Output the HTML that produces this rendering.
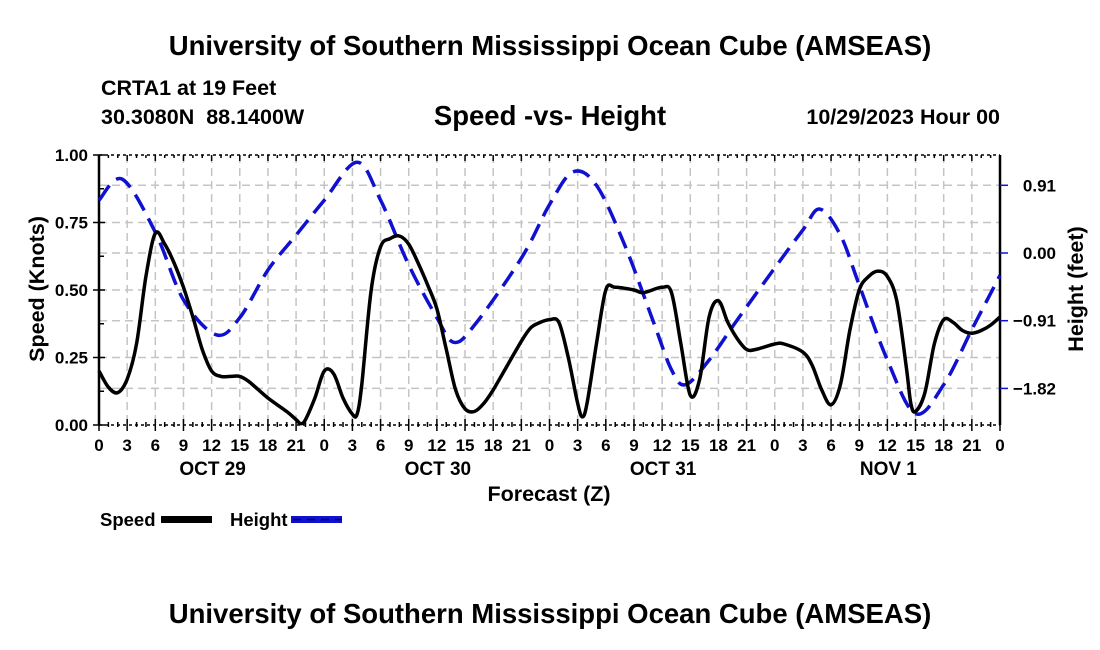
<!DOCTYPE html>
<html><head><meta charset="utf-8"><style>
body{margin:0;background:#fff;}
svg{display:block;font-family:"Liberation Sans",sans-serif;font-weight:bold;}
</style></head><body>
<svg id="chart" width="1100" height="650" viewBox="0 0 1100 650">
<rect width="1100" height="650" fill="#fff"/>
<text x="550" y="55" font-size="27.5" text-anchor="middle">University of Southern Mississippi Ocean Cube (AMSEAS)</text>
<text x="101" y="95" font-size="21.5">CRTA1 at 19 Feet</text>
<text x="101" y="124" font-size="21.5" xml:space="preserve">30.3080N  88.1400W</text>
<text x="550" y="125" font-size="27.5" text-anchor="middle">Speed -vs- Height</text>
<text x="1000" y="124" font-size="21.5" text-anchor="end">10/29/2023 Hour 00</text>
<g id="grid"></g>
<g id="axes"></g>
<g id="series"></g>
<text x="549" y="501" font-size="21.5" text-anchor="middle">Forecast (Z)</text>
<text transform="translate(44,289) rotate(-90)" font-size="21.5" text-anchor="middle">Speed (Knots)</text>
<text transform="translate(1083,289) rotate(-90)" font-size="21.5" text-anchor="middle">Height (feet)</text>
<g>
<text x="100" y="526" font-size="18.5">Speed</text>
<rect x="161" y="516" width="51" height="7" fill="#000"/>
</g>
<g>
<text x="230" y="526" font-size="18.5">Height</text>
<rect x="291" y="516" width="51" height="7" fill="#1010d0"/>
<line x1="293" y1="519.5" x2="342" y2="519.5" stroke="#000060" stroke-width="1.5" stroke-dasharray="8,6"/>
</g>
<text x="550" y="623" font-size="27.5" text-anchor="middle">University of Southern Mississippi Ocean Cube (AMSEAS)</text>
</svg>
<script>
const speedHours=[0,1,2,3,4,5,6,7,8,9,10,11,12,13,14,15,16,18,20,21,21.5,22,23,24,25,26,27,27.5,28,29,30,31,32,33,34,35,36,37,38,39,40,41,42,43,45,46,47,48,49,50,51,51.5,52,53,54,55,57,58,60,61,62,63,64,65,66,67,68,69,70,72,73,75,76,77,78,79,80,81,82,83,84,85,86,86.5,87,88,89,90,91,92,93,94,95,96];
const speedValues=[0.20,0.14,0.12,0.17,0.30,0.55,0.71,0.67,0.60,0.51,0.40,0.28,0.20,0.18,0.18,0.18,0.16,0.10,0.05,0.02,0.005,0.02,0.10,0.20,0.19,0.10,0.04,0.04,0.15,0.50,0.66,0.69,0.70,0.67,0.60,0.52,0.43,0.28,0.13,0.06,0.05,0.08,0.13,0.19,0.31,0.36,0.38,0.39,0.38,0.25,0.08,0.03,0.08,0.30,0.50,0.51,0.50,0.49,0.51,0.49,0.30,0.11,0.17,0.40,0.46,0.38,0.32,0.28,0.28,0.30,0.30,0.27,0.22,0.13,0.075,0.15,0.35,0.50,0.55,0.57,0.55,0.46,0.22,0.08,0.05,0.12,0.30,0.39,0.38,0.35,0.34,0.35,0.37,0.40];
const heightHours=[0,2.5,6,9,12.5,15,18,21,24,27.5,30,33,36,37.8,40,45,48,50.5,53,56,59,61,62.5,65,68,72,75,76.8,79,81,84,87,90,93,96];
const heightValues=[0.71,0.99,0.28,-0.63,-1.10,-0.87,-0.23,0.24,0.71,1.22,0.71,-0.16,-0.87,-1.20,-0.97,-0.07,0.65,1.09,0.91,0.11,-0.90,-1.57,-1.77,-1.44,-0.90,-0.20,0.31,0.59,0.24,-0.43,-1.44,-2.16,-1.77,-1.03,-0.30];
const xTickLabels=["0","3","6","9","12","15","18","21"];
const dayLabels=["OCT 29","OCT 30","OCT 31","NOV 1"];
const speedTicks=[0,0.25,0.5,0.75,1.0];
const heightTicks=[0.91,0,-0.91,-1.82];

const X0=99,X1=1000,Y0=425,Y1=155;
const xS=h=>X0+h*(X1-X0)/96;
const yS=s=>Y0-s*(Y0-Y1);
const yH=f=>253-f*74.4;
const NS="http://www.w3.org/2000/svg";
function mk(tag,attrs,parent){const e=document.createElementNS(NS,tag);for(const k in attrs)e.setAttribute(k,attrs[k]);parent.appendChild(e);return e;}
const grid=document.getElementById('grid'),axes=document.getElementById('axes'),series=document.getElementById('series');
for(let h=3;h<96;h+=3){const l=mk('line',{x1:xS(h),x2:xS(h),y1:Y1,y2:Y0,stroke:'#c4c4c4','stroke-width':1.5,'stroke-dasharray':'8,5'},grid);

}
speedTicks.slice(1,4).forEach(s=>{const l=mk('line',{x1:X0,x2:X1,y1:yS(s),y2:yS(s),stroke:'#c4c4c4','stroke-width':1.5,'stroke-dasharray':'8,5'},grid);

});
heightTicks.forEach(f=>{const l=mk('line',{x1:X0,x2:X1,y1:yH(f),y2:yH(f),stroke:'#c4c4c4','stroke-width':1.5,'stroke-dasharray':'8,5'},grid);

});
mk('line',{x1:X0,x2:X0,y1:Y1,y2:Y0,stroke:'#000','stroke-width':2.5},axes);
mk('line',{x1:X1,x2:X1,y1:Y1,y2:Y0,stroke:'#000','stroke-width':2.5},axes);
mk('line',{x1:X0,x2:X1,y1:Y1,y2:Y1,stroke:'#000','stroke-width':1.5,'stroke-dasharray':'3,3'},axes);
mk('line',{x1:X0,x2:X1,y1:Y0,y2:Y0,stroke:'#000','stroke-width':1.5,'stroke-dasharray':'3,3'},axes);
for(let h=0;h<=96;h++){const big=h%3===0;
mk('line',{x1:xS(h),x2:xS(h),y1:Y0-(big?6:3),y2:Y0+(big?6:2),stroke:'#000','stroke-width':1.5},axes);
mk('line',{x1:xS(h),x2:xS(h),y1:Y1,y2:Y1+(big?6:3),stroke:'#000','stroke-width':1.5},axes);
if(big){const t=mk('text',{x:xS(h),y:451,'font-size':17,'text-anchor':'middle'},axes);t.textContent=xTickLabels[(h/3)%8];

}}
dayLabels.forEach((d,i)=>{const t=mk('text',{x:xS(12+24*i)+1,y:475,'font-size':19,'text-anchor':'middle'},axes);t.textContent=d;

});
speedTicks.forEach(s=>{mk('line',{x1:X0-6,x2:X0+6,y1:yS(s),y2:yS(s),stroke:'#000','stroke-width':1.5},axes);
const t=mk('text',{x:88,y:yS(s)+6,'font-size':17,'text-anchor':'end'},axes);t.textContent=s.toFixed(2);

});
for(let s=0.125;s<1;s+=0.25)mk('line',{x1:X0,x2:X0+5,y1:yS(s),y2:yS(s),stroke:'#000','stroke-width':1.5},axes);
heightTicks.forEach(f=>{mk('line',{x1:X1,x2:X1+8,y1:yH(f),y2:yH(f),stroke:'#1010d0','stroke-width':1.5},axes);
const t=mk('text',{x:1056,y:yH(f)+6,'font-size':17,'text-anchor':'end'},axes);t.textContent=(f<0?'\u2212':'')+Math.abs(f).toFixed(2);

});
function smooth(pts){let d=`M${pts[0][0]},${pts[0][1]}`;
for(let i=0;i<pts.length-1;i++){const p0=pts[i-1]||pts[i],p1=pts[i],p2=pts[i+1],p3=pts[i+2]||p2;
const c1=[p1[0]+(p2[0]-p0[0])/6,p1[1]+(p2[1]-p0[1])/6],c2=[p2[0]-(p3[0]-p1[0])/6,p2[1]-(p3[1]-p1[1])/6];
d+=` C${c1[0].toFixed(1)},${c1[1].toFixed(1)} ${c2[0].toFixed(1)},${c2[1].toFixed(1)} ${p2[0].toFixed(1)},${p2[1].toFixed(1)}`;}return d;}
const hp=mk('path',{d:smooth(heightHours.map((h,i)=>[xS(h),yH(heightValues[i])])),fill:'none',stroke:'#1010d0','stroke-width':3.5,'stroke-dasharray':'18,9'},series);


const sp=mk('path',{d:smooth(speedHours.map((h,i)=>[xS(h),yS(speedValues[i])])),fill:'none',stroke:'#000','stroke-width':3.5,'stroke-linejoin':'round'},series);


</script>
</body></html>
